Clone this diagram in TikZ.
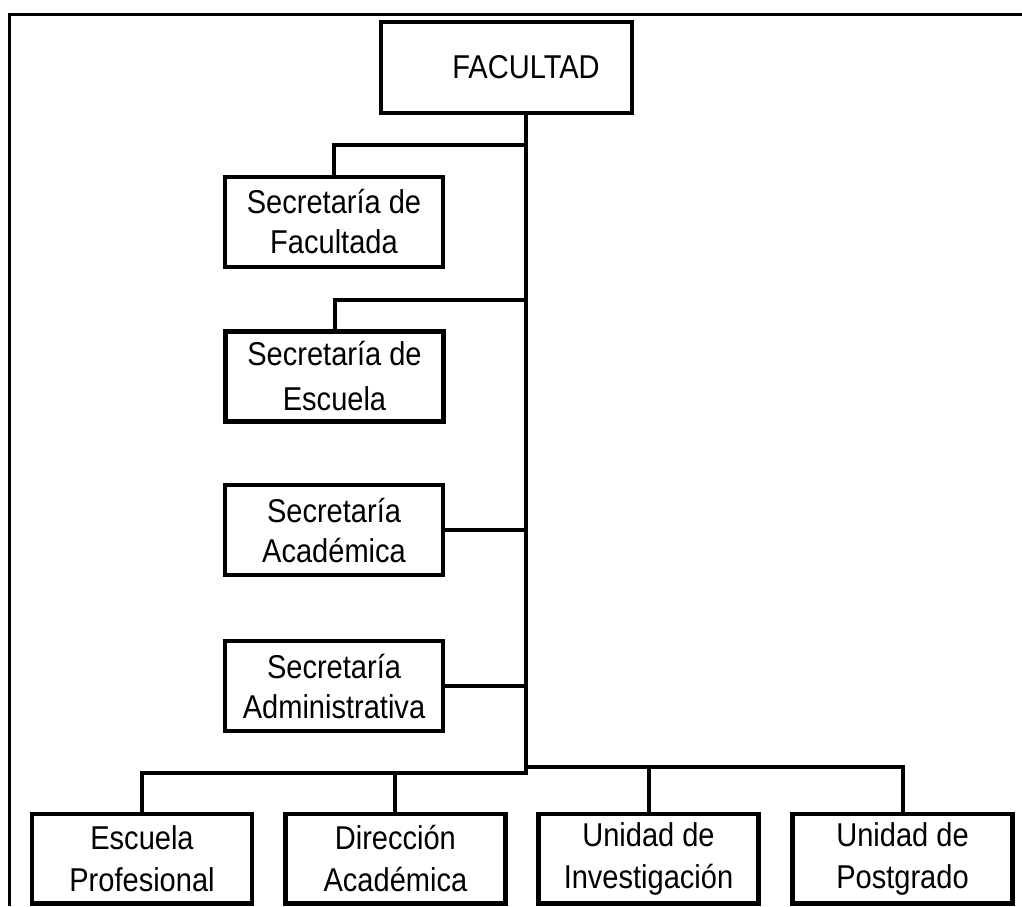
\documentclass[tikz,border=0pt]{standalone}
\usepackage{fontspec}
\setmainfont{Liberation Sans}[FakeStretch=0.88]
\begin{document}
\begin{tikzpicture}[x=1pt,y=-1pt,
  box/.style={draw, line width=4.2pt, inner sep=0pt, align=center,
    font=\fontsize{33}{40}\selectfont},
  secbox/.style={box, minimum width=218pt, minimum height=90pt},
  unitbox/.style={box, minimum width=220pt, minimum height=89.5pt,
    font=\fontsize{33}{42}\selectfont},
  link/.style={line width=4pt},
  frame/.style={line width=3.2pt}]
\useasboundingbox (0,0) rectangle (1022,906);

% outer frame (top and left edges)
\draw[frame] (9.2,906) -- (9.2,14.2) -- (1022,14.2);

% head of the faculty
\node[box, minimum width=251pt, minimum height=91pt] (fac) at (506.5,67.5) {};
\node[font=\fontsize{33}{40}\selectfont, inner sep=0pt] (factitle) at (526,67.5) {FACULTAD};

% secretariats along the trunk
\node[secbox] (s1) at (334,222) {Secretaría de\\Facultada};
\node[secbox, font=\fontsize{33}{45}\selectfont] (s2) at (334.5,376.5) {Secretaría de\\Escuela};
\node[secbox] (s3) at (334,530) {Secretaría\\Académica};
\node[secbox] (s4) at (334,686) {Secretaría\\Administrativa};

% units on the bottom row
\node[unitbox] (u1) at (142,858.7) {Escuela\\Profesional};
\node[unitbox] (u2) at (395.4,858.7) {Dirección\\Académica};
\node[unitbox] (u3) at (648.5,858.7) {Unidad de\\Investigación};
\node[unitbox] (u4) at (902.5,858.7) {Unidad de\\Postgrado};

% junction points on the trunk
\coordinate (jS1) at (525.5,145.3);
\coordinate (jS2) at (525.5,299.7);
\coordinate (jL) at (525.5,773);
\coordinate (jR) at (525.5,766.7);

% trunk and left branch of the bottom row
\draw[link] (fac.south -| jL) -- (jL) -| (u1.north);
\draw[link] (jL) -| (u2.north);
% right branch of the bottom row
\draw[link] (jR) -| (u3.north);
\draw[link] (jR) -| (u4.north);

% secretariat connectors
\draw[link] (s1.north) |- (jS1);
\draw[link] (s2.north) |- (jS2);
\draw[link] (s3.east) -- (s3.east -| jL);
\draw[link] (s4.east) -- (s4.east -| jL);
\end{tikzpicture}
\end{document}
